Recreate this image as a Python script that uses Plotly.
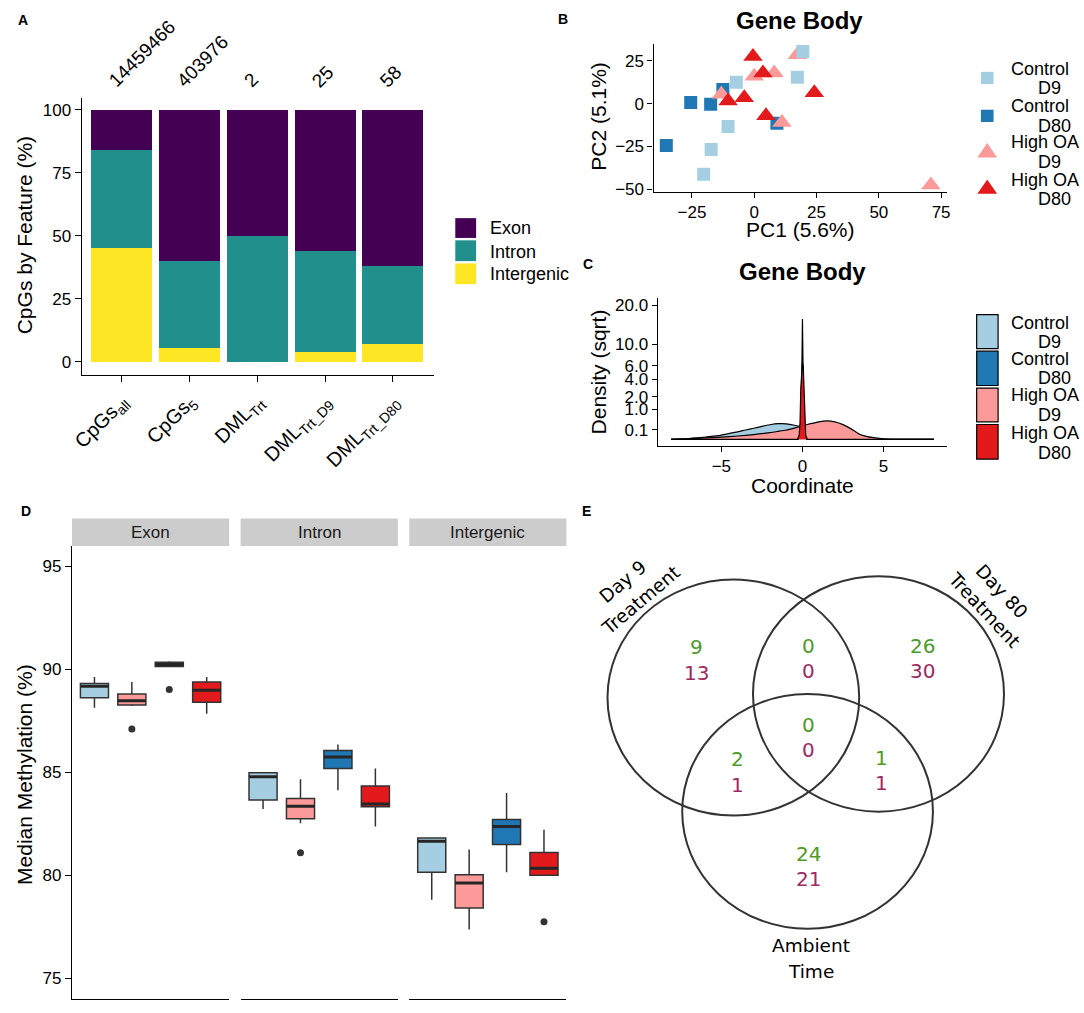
import math
import plotly.graph_objects as go

W, H = 1084, 1013
def fx(p): return p / W
def fy(p): return 1 - p / H

FONT = "Liberation Sans, Arial, Helvetica, sans-serif"
VFONT = "DejaVu Sans, Verdana, sans-serif"

# ---------------- Panel A data ----------------
a_labels = ["CpGs<sub>all</sub>", "CpGs<sub>5</sub>", "DML<sub>Trt</sub>",
            "DML<sub>Trt_D9</sub>", "DML<sub>Trt_D80</sub>"]
a_counts = ["14459466", "403976", "2", "25", "58"]
a_exon = [16.0, 59.9, 50.0, 56.0, 62.1]
a_intron = [38.7, 34.5, 50.0, 40.0, 31.0]
a_intergenic = [45.3, 5.6, 0.0, 4.0, 6.9]
a_features = ["Exon", "Intron", "Intergenic"]
a_colors = {"Exon": "#440154", "Intron": "#21908C", "Intergenic": "#FDE725"}

# ---------------- Panel B data ----------------
groups = ["Control D9", "Control D80", "High OA D9", "High OA D80"]
g_colors = {"Control D9": "#A6CEE3", "Control D80": "#1F78B4",
            "High OA D9": "#FB9A99", "High OA D80": "#E31A1C"}
b_pc1_ctrl_d9 = [19.5, 17.3, -7.2, -10.5, -17.3, -20.3]
b_pc2_ctrl_d9 = [30.4, 15.4, 12.5, -13.4, -26.7, -41.1]
b_pc1_ctrl_d80 = [-25.5, -17.5, -12.6, 9.1, -35.3]
b_pc2_ctrl_d80 = [0.6, -0.4, 8.3, -11.5, -24.4]
b_pc1_high_d9 = [17.3, 8.0, 0.0, -13.2, 11.1, 70.9]
b_pc2_high_d9 = [28.5, 17.9, 16.0, 5.4, -11.0, -47.5]
b_pc1_high_d80 = [-0.5, 3.5, -10.5, -4.0, 4.7, 24.1]
b_pc2_high_d80 = [27.5, 17.9, 1.6, 3.5, -7.1, 6.3]
b_xticks = [-25, 0, 25, 50, 75]
b_yticks = [-50, -25, 0, 25]

# ---------------- Panel C data (density values) ----------------
c_ctrl_d9_x = [-8.1, -7, -6.5, -6, -5.5, -5, -4.5, -4, -3.5, -3, -2.5, -2, -1.5, -1, -0.5, 0, 0.5, 1, 1.5, 2, 2.5, 3, 8.1]
c_ctrl_d9_d = [0, 0.0006, 0.002, 0.005, 0.011, 0.02, 0.038, 0.062, 0.095, 0.135, 0.185, 0.235, 0.27, 0.265, 0.22, 0.16, 0.08, 0.03, 0.01, 0.003, 0.0005, 0, 0]
c_ctrl_d80_x = [-8.1, -0.25, -0.15, -0.08, -0.04, 0, 0.04, 0.08, 0.15, 0.25, 8.1]
c_ctrl_d80_d = [0, 0, 0.05, 0.8, 5.0, 16.1, 5.0, 0.8, 0.05, 0, 0]
c_high_d9_x = [-8.1, -7, -6, -5, -4, -3, -2, -1.5, -1, -0.5, 0, 0.5, 1, 1.5, 2, 2.5, 3, 3.5, 4, 4.5, 5, 6, 8.1]
c_high_d9_d = [0, 0.0005, 0.002, 0.005, 0.012, 0.025, 0.05, 0.07, 0.095, 0.14, 0.2, 0.27, 0.34, 0.38, 0.34, 0.24, 0.12, 0.03, 0.008, 0.002, 0.0003, 0, 0]
c_high_d80_x = [-8.1, -0.3, -0.2, -0.15, -0.1, -0.05, 0, 0.05, 0.1, 0.15, 0.2, 0.3, 8.1]
c_high_d80_d = [0, 0, 0.02, 0.3, 3.0, 5.8, 6.5, 5.8, 3.0, 0.3, 0.02, 0, 0]
c_ticks = [0.1, 1.0, 2.0, 4.0, 6.0, 10.0, 20.0]

# ---------------- Panel D data (box stats) ----------------
d_features = ["Exon", "Intron", "Intergenic"]
d_groups = ["Control D9", "High OA D9", "Control D80", "High OA D80"]
exon_q1 = [88.62, 88.27, 90.14, 88.40]
exon_med = [89.18, 88.48, 90.24, 88.99]
exon_q3 = [89.31, 88.80, 90.35, 89.39]
exon_lo = [88.14, 88.22, 90.14, 87.84]
exon_hi = [89.63, 89.39, 90.40, 89.63]
intron_q1 = [83.65, 82.74, 85.19, 83.33]
intron_med = [84.78, 83.35, 85.74, 83.46]
intron_q3 = [84.98, 83.73, 86.06, 84.34]
intron_lo = [83.22, 82.53, 84.13, 82.37]
intron_hi = [84.98, 84.66, 86.35, 85.19]
inter_q1 = [80.14, 78.41, 81.49, 80.00]
inter_med = [81.65, 79.62, 82.37, 80.34]
inter_q3 = [81.81, 80.02, 82.71, 81.11]
inter_lo = [78.81, 77.37, 80.14, 80.00]
inter_hi = [81.81, 81.25, 83.99, 82.21]
out_feature = ["Exon", "Exon", "Intron", "Intergenic"]
out_group = ["High OA D9", "Control D80", "High OA D9", "High OA D80"]
out_value = [87.10, 89.02, 81.09, 77.74]
d_yticks = [75, 80, 85, 90, 95]

# ---------------- Panel E data (Venn) ----------------
venn_sets = [["Day 9", "Treatment"], ["Day 80", "Treatment"], ["Ambient", "Time"]]
venn_regions = ["D9", "D9&D80", "D80", "D9&Amb", "All", "D80&Amb", "Amb"]
venn_green = [9, 0, 26, 2, 0, 1, 24]
venn_magenta = [13, 0, 30, 1, 0, 1, 21]

fig = go.Figure()

# ---- A: stacked bars
a_idx = list(range(len(a_labels)))
for feat, vals in [("Intergenic", a_intergenic), ("Intron", a_intron), ("Exon", a_exon)]:
    fig.add_trace(go.Bar(x=a_idx, y=vals, name=feat, width=0.9,
                         marker=dict(color=a_colors[feat], line=dict(width=0)),
                         xaxis="x", yaxis="y", hoverinfo="skip"))

# ---- B: PCA scatter
b_sets = [("Control D80", b_pc1_ctrl_d80, b_pc2_ctrl_d80, "square", 13),
          ("High OA D9", b_pc1_high_d9, b_pc2_high_d9, "triangle-up", 17),
          ("Control D9", b_pc1_ctrl_d9, b_pc2_ctrl_d9, "square", 13),
          ("High OA D80", b_pc1_high_d80, b_pc2_high_d80, "triangle-up", 17)]
for g, xs, ys, sym, sz in b_sets:
    fig.add_trace(go.Scatter(x=xs, y=ys, mode="markers", name=g,
                             marker=dict(symbol=sym, size=sz, color=g_colors[g], line=dict(width=0)),
                             xaxis="x2", yaxis="y2", hoverinfo="skip"))

# ---- C: densities on sqrt scale
c_sets = [("Control D9", c_ctrl_d9_x, c_ctrl_d9_d, "spline"),
          ("Control D80", c_ctrl_d80_x, c_ctrl_d80_d, "linear"),
          ("High OA D9", c_high_d9_x, c_high_d9_d, "spline"),
          ("High OA D80", c_high_d80_x, c_high_d80_d, "linear")]
for g, xs, ds, shp in c_sets:
    fig.add_trace(go.Scatter(x=xs, y=[math.sqrt(v) for v in ds], mode="lines", name=g,
                             fill="tozeroy", fillcolor=g_colors[g],
                             line=dict(color="black", width=1.2, shape=shp, smoothing=0.6),
                             xaxis="x3", yaxis="y3", hoverinfo="skip"))

# ---- D: boxplots
d_stats = {"Exon": (exon_q1, exon_med, exon_q3, exon_lo, exon_hi),
           "Intron": (intron_q1, intron_med, intron_q3, intron_lo, intron_hi),
           "Intergenic": (inter_q1, inter_med, inter_q3, inter_lo, inter_hi)}
d_xaxes = ["x4", "x5", "x6"]
for feat, xa in zip(d_features, d_xaxes):
    q1, med, q3, lo, hi = d_stats[feat]
    for gi, g in enumerate(d_groups):
        fig.add_trace(go.Box(x=[g], q1=[q1[gi]], median=[med[gi]], q3=[q3[gi]],
                             lowerfence=[lo[gi]], upperfence=[hi[gi]],
                             fillcolor=g_colors[g], line=dict(color="#333333", width=1.5),
                             whiskerwidth=0, width=0.75, boxpoints=False,
                             xaxis=xa, yaxis="y4", hoverinfo="skip"))
        fig.add_trace(go.Box(x=[g], q1=[med[gi]], median=[med[gi]], q3=[med[gi]],
                             lowerfence=[med[gi]], upperfence=[med[gi]],
                             fillcolor="rgba(0,0,0,0)", line=dict(color="#262626", width=3),
                             whiskerwidth=0, width=0.75, boxpoints=False,
                             xaxis=xa, yaxis="y4", hoverinfo="skip"))
for feat, g, v in zip(out_feature, out_group, out_value):
    fig.add_trace(go.Scatter(x=[g], y=[v], mode="markers",
                             marker=dict(color="#333333", size=7),
                             xaxis=d_xaxes[d_features.index(feat)], yaxis="y4", hoverinfo="skip"))


def axstyle(**kw):
    d = dict(showline=True, linecolor="black", linewidth=1.3, ticks="outside",
             tickcolor="black", tickwidth=1.3, ticklen=5, showgrid=False, zeroline=False,
             tickfont=dict(family=FONT, size=17, color="black"), fixedrange=True)
    d.update(kw)
    return d


def daxis(dom):
    return dict(domain=dom, range=[-0.6, 3.6], type="category", categoryorder="array",
                categoryarray=d_groups, showline=True, linecolor="black", linewidth=1.3,
                ticks="", showticklabels=False, showgrid=False, zeroline=False, anchor="y4")


fig.update_layout(
    width=W, height=H, autosize=False, margin=dict(l=0, r=0, t=0, b=0, pad=0),
    paper_bgcolor="white", plot_bgcolor="white", showlegend=False,
    barmode="stack", boxmode="overlay",
    xaxis=axstyle(domain=[fx(71.6), fx(428.1)], range=[-0.595, 4.6], tickvals=a_idx,
                  ticktext=a_labels, tickangle=-45, ticklen=6,
                  tickfont=dict(family=FONT, size=20, color="black"), anchor="y"),
    yaxis=axstyle(domain=[fy(376.7), fy(96.7)], range=[-5.26, 104.71],
                  tickvals=[0, 25, 50, 75, 100], ticklen=6, anchor="x"),
    xaxis2=axstyle(domain=[fx(651), fx(948.6)], range=[-40.4, 77.5], tickvals=b_xticks, anchor="y2"),
    yaxis2=axstyle(domain=[fy(191.7), fy(42.7)], range=[-51.4, 34.6], tickvals=b_yticks, anchor="x2"),
    xaxis3=axstyle(domain=[fx(655.2), fx(948.6)], range=[-8.92, 8.93], tickvals=[-5, 0, 5], anchor="y3"),
    yaxis3=axstyle(domain=[fy(448.3), fy(299.3)], range=[-0.22, 4.70],
                   tickvals=[math.sqrt(t) for t in c_ticks],
                   ticktext=["%.1f" % t for t in c_ticks], anchor="x3"),
    xaxis4=daxis([fx(61.8), fx(221.0)]),
    xaxis5=daxis([fx(232.6), fx(391.9)]),
    xaxis6=daxis([fx(403.5), fx(562.7)]),
    yaxis4=axstyle(domain=[fy(1006.7), fy(549.3)], range=[74, 96], tickvals=d_yticks,
                   ticklen=6, anchor="x4"),
)

ann = []
shapes = []


def text(px, py, s, size=17, family=FONT, angle=0, xanchor="center", yanchor="middle", color="black"):
    ann.append(dict(x=fx(px), y=fy(py), xref="paper", yref="paper", text=s, showarrow=False,
                    textangle=angle, xanchor=xanchor, yanchor=yanchor,
                    font=dict(family=family, size=size, color=color)))


# panel letters
for lab, px, py in [("A", 12, 18), ("B", 559, 17), ("C", 585, 265), ("D", 15, 514), ("E", 583, 514)]:
    text(px, py, "<b>%s</b>" % lab, size=14)

# A: counts above bars
for i, c in enumerate(a_counts):
    ann.append(dict(x=i, xref="x", y=fy(93), yref="paper", text=c, showarrow=False,
                    textangle=-45, xanchor="left", yanchor="bottom", xshift=-20,
                    font=dict(family=FONT, size=19, color="black")))
text(13.8, 236, "CpGs by Feature (%)", size=21, angle=-90)
# A legend
for feat, (y0, y1, yc) in zip(a_features, [(218.3, 238.3, 228.3), (240.7, 261.7, 252.3), (264, 285, 275)]):
    shapes.append(dict(type="rect", xref="paper", yref="paper", x0=fx(450.1), x1=fx(471.2),
                       y0=fy(y1), y1=fy(y0), fillcolor=a_colors[feat], line=dict(width=0)))
    text(483, yc, feat, size=18, xanchor="left")

# B
text(798.4, 18.3, "<b>Gene Body</b>", size=24)
text(799.5, 230, "PC1 (5.6%)", size=21)
text(595.5, 115, "PC2 (5.1%)", size=21, angle=-90)
b_leg = [(76.7, 67.3, 87.3), (115, 105, 125), (150, 141.7, 161.7), (186.7, 179.3, 199.3)]
for g, (my, t1, t2) in zip(groups, b_leg):
    cx = 989.0
    if g.startswith("Control"):
        shapes.append(dict(type="rect", xref="paper", yref="paper", x0=fx(cx - 6.4), x1=fx(cx + 6.4),
                           y0=fy(my + 6.2), y1=fy(my - 6.2), fillcolor=g_colors[g], line=dict(width=0)))
    else:
        p = "M %f,%f L %f,%f L %f,%f Z" % (fx(cx - 10), fy(my + 7), fx(cx + 10), fy(my + 7), fx(cx), fy(my - 7.5))
        shapes.append(dict(type="path", xref="paper", yref="paper", path=p,
                           fillcolor=g_colors[g], line=dict(width=0)))
    l1, l2 = g.rsplit(" ", 1)
    text(1011.5, t1, l1, size=18, xanchor="left")
    text(1038.3, t2, l2, size=18, xanchor="left")

# C
text(801.9, 271.7, "<b>Gene Body</b>", size=24)
text(801.9, 488.3, "Coordinate", size=21)
text(595.5, 373.3, "Density (sqrt)", size=21, angle=-90)
c_leg = [(315.7, 350, 324, 343.3), (352.7, 387.3, 360.7, 380),
         (390, 424, 397.3, 416.7), (426.7, 461.7, 435, 455)]
for g, (y0, y1, t1, t2) in zip(groups, c_leg):
    shapes.append(dict(type="rect", xref="paper", yref="paper", x0=fx(978.3), x1=fx(1000),
                       y0=fy(y1), y1=fy(y0), fillcolor=g_colors[g], line=dict(color="black", width=1.2)))
    l1, l2 = g.rsplit(" ", 1)
    text(1011.5, t1, l1, size=18, xanchor="left")
    text(1038.3, t2, l2, size=18, xanchor="left")

# D strips
for feat, (x0, x1) in zip(d_features, [(61.8, 221.0), (232.6, 391.9), (403.5, 562.7)]):
    shapes.append(dict(type="rect", xref="paper", yref="paper", x0=fx(x0), x1=fx(x1),
                       y0=fy(549.3), y1=fy(521.7), fillcolor="#CCCCCC", line=dict(width=0), layer="below"))
    text((x0 + x1) / 2, 535.5, feat, size=17, color="#1A1A1A")
text(13.8, 780, "Median Methylation (%)", size=21, angle=-90)

# E: Venn
for (x0, x1, y0, y1) in [(604.3, 859.3, 583.3, 821.7), (751.7, 1006.0, 580.0, 817.7), (680.0, 934.0, 699.0, 936.0)]:
    shapes.append(dict(type="circle", xref="paper", yref="paper", x0=fx(x0), x1=fx(x1),
                       y0=fy(y1), y1=fy(y0), line=dict(color="#333333", width=2)))
venn_pos = [(694.3, 651.7), (808, 650), (923.3, 650), (736, 765), (808.3, 730), (881.7, 763.3), (808.3, 860)]
for (px, py), gv, mv in zip(venn_pos, venn_green, venn_magenta):
    text(px, py, str(gv), size=20, family=VFONT, color="#4D9A2B")
    text(px, py + 25.5, str(mv), size=20, family=VFONT, color="#9C2A62")
venn_label_pos = [[(620, 585.7, -40), (637.5, 604.2, -40)],
                  [(1004, 595, 47), (985.8, 613.3, 47)],
                  [(810, 953.3, 0), (810, 979, 0)]]
for lines, poss in zip(venn_sets, venn_label_pos):
    for s, (px, py, ang) in zip(lines, poss):
        text(px, py, s, size=18.5, family=VFONT, angle=ang)

fig.update_layout(annotations=ann, shapes=shapes)
fig.write_html("out.html", config={"displayModeBar": False},
               post_script="document.body.style.margin='0px';document.body.style.overflow='hidden';")
